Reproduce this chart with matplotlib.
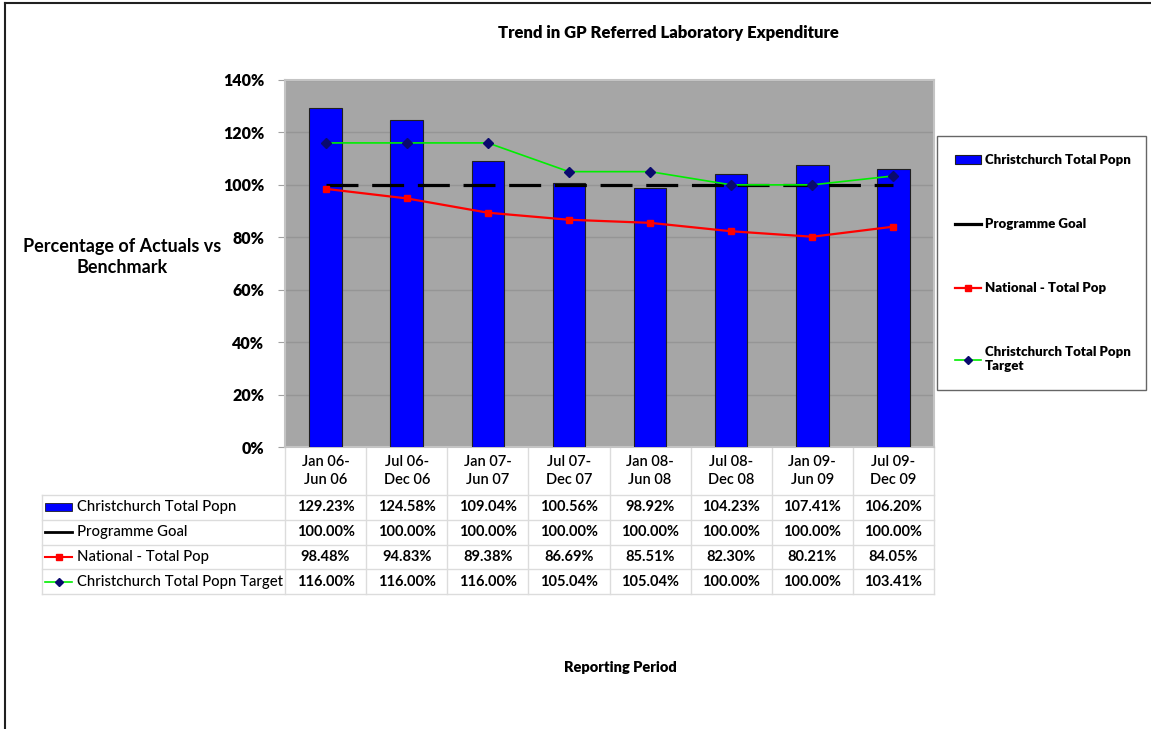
import matplotlib
matplotlib.use("Agg")
import matplotlib.pyplot as plt
from matplotlib.lines import Line2D
from matplotlib.patches import Rectangle

plt.rcParams["font.family"] = ["Lato", "DejaVu Sans"]

periods = ["Jan 06-\nJun 06", "Jul 06-\nDec 06", "Jan 07-\nJun 07", "Jul 07-\nDec 07",
           "Jan 08-\nJun 08", "Jul 08-\nDec 08", "Jan 09-\nJun 09", "Jul 09-\nDec 09"]
christchurch = [129.23, 124.58, 109.04, 100.56, 98.92, 104.23, 107.41, 106.20]
goal = [100.00, 100.00, 100.00, 100.00, 100.00, 100.00, 100.00, 100.00]
national = [98.48, 94.83, 89.38, 86.69, 85.51, 82.30, 80.21, 84.05]
target = [116.00, 116.00, 116.00, 105.04, 105.04, 100.00, 100.00, 103.41]
series_names = ["Christchurch Total Popn", "Programme Goal", "National - Total Pop",
                "Christchurch Total Popn Target"]
y_ticks = [0, 20, 40, 60, 80, 100, 120, 140]

W, H = 1151, 729
fig = plt.figure(figsize=(W / 100, H / 100), dpi=100)
ax = fig.add_axes([285 / W, 1 - 447 / H, 649 / W, 367 / H])
ax.set_facecolor("#a6a6a6")

x = list(range(len(periods)))
bars = ax.bar(x, christchurch, width=0.4, color="#0000ff", edgecolor="#202020",
              linewidth=0.8, zorder=3, label=series_names[0])
(goal_line,) = ax.plot(x, goal, color="black", lw=2.3, zorder=4, label=series_names[1])
goal_line.set_dashes([10, 4.3])
(nat_line,) = ax.plot(x, national, color="#ff0000", lw=1.6, marker="s", ms=5,
                      zorder=5, label=series_names[2])
(tgt_line,) = ax.plot(x, target, color="#00ee00", lw=1.2, marker="D", ms=5,
                      mfc="#0a0a6e", mec="#0a0a6e", zorder=6, label=series_names[3])

ax.set_xlim(-0.5, len(periods) - 0.5)
ax.set_ylim(0, 140)
ax.set_yticks(y_ticks)
ax.set_yticklabels([f"{v}%" for v in y_ticks], fontsize=11.5, fontweight="heavy")
ax.set_xticks([])
ax.yaxis.grid(True, color="#959595", lw=1)
ax.set_axisbelow(True)
ax.tick_params(axis="y", length=5, color="#a0a0a0", pad=10)
for s in ax.spines.values():
    s.set_color("#c4c4c4")
    s.set_linewidth(1.5)

# data table underneath
tr = ax.get_xaxis_transform()
head_h = 48 / 367
row_h = 24.75 / 367
n = len(periods)
left = -3.5
bottom = -head_h - 4 * row_h
grid_kw = dict(color="#dcdcdc", lw=1, transform=tr, clip_on=False)
for i in range(n + 1):
    ax.add_line(Line2D([i - 0.5, i - 0.5], [0, bottom], **grid_kw))
ax.add_line(Line2D([left, left], [-head_h, bottom], **grid_kw))
for r in range(5):
    yy = -head_h - r * row_h
    ax.add_line(Line2D([left, n - 0.5], [yy, yy], **grid_kw))

for i, lab in enumerate(periods):
    ax.text(i, -head_h / 2, lab, transform=tr, ha="center", va="center",
            fontsize=10.5, fontweight="semibold", linespacing=1.45)

rows = [christchurch, goal, national, target]
for r, vals in enumerate(rows):
    yc = -head_h - (r + 0.5) * row_h
    for i, v in enumerate(vals):
        ax.text(i, yc, f"{v:.2f}%", transform=tr, ha="center", va="center",
                fontsize=10.5, fontweight="bold")
    ax.text(-3.06, yc, series_names[r], transform=tr, ha="left", va="center",
            fontsize=10.7, fontweight="medium")
    k0, k1 = -3.46, -3.12
    if r == 0:
        ax.add_patch(Rectangle((k0, yc - 0.011), k1 - k0, 0.022, transform=tr,
                               facecolor="#0000ff", edgecolor="#202020", lw=0.6,
                               clip_on=False))
    elif r == 1:
        ax.add_line(Line2D([k0, k1], [yc, yc], color="black", lw=2, transform=tr,
                           clip_on=False))
    elif r == 2:
        ax.add_line(Line2D([k0, k1], [yc, yc], color="#ff0000", lw=1.5, transform=tr,
                           clip_on=False))
        ax.add_line(Line2D([(k0 + k1) / 2], [yc], color="#ff0000", marker="s", ms=4,
                           transform=tr, clip_on=False))
    else:
        ax.add_line(Line2D([k0, k1], [yc, yc], color="#00ee00", lw=1.2, transform=tr,
                           clip_on=False))
        ax.add_line(Line2D([(k0 + k1) / 2], [yc], color="#0a0a6e", marker="D", ms=4,
                           transform=tr, clip_on=False))

# legend
handles = [bars, Line2D([], [], color="black", lw=2.3),
           nat_line, tgt_line]
labels = [series_names[0], series_names[1], series_names[2],
          "Christchurch Total Popn\nTarget"]
leg = fig.legend(handles, labels, loc="upper left",
                 bbox_to_anchor=(937 / W, 1 - 137 / H, 209 / W, 0.001), mode="expand",
                 prop={"size": 9.5, "weight": "heavy"}, frameon=True, fancybox=False,
                 edgecolor="#404040", labelspacing=3.95, handlelength=2.0,
                 handletextpad=0.25, borderpad=1.35, borderaxespad=0, markerscale=0.8)
leg.get_frame().set_linewidth(1)

fig.text(668 / W, 1 - 33 / H, "Trend in GP Referred Laboratory Expenditure",
         ha="center", va="center", fontsize=12, fontweight="heavy")
fig.text(122 / W, 1 - 257 / H, "Percentage of Actuals vs\nBenchmark", ha="center",
         va="center", fontsize=13, fontweight="bold", linespacing=1.3)
fig.text(620 / W, 1 - 668 / H, "Reporting Period", ha="center", va="center",
         fontsize=10.5, fontweight="heavy")

# outer border (top and left only)
fig.add_artist(Line2D([5 / W, 1], [1 - 3 / H, 1 - 3 / H], color="#202020", lw=1.5,
                      transform=fig.transFigure))
fig.add_artist(Line2D([5 / W, 5 / W], [0, 1 - 3 / H], color="#202020", lw=1.5,
                      transform=fig.transFigure))

fig.savefig("out.png", dpi=100)
